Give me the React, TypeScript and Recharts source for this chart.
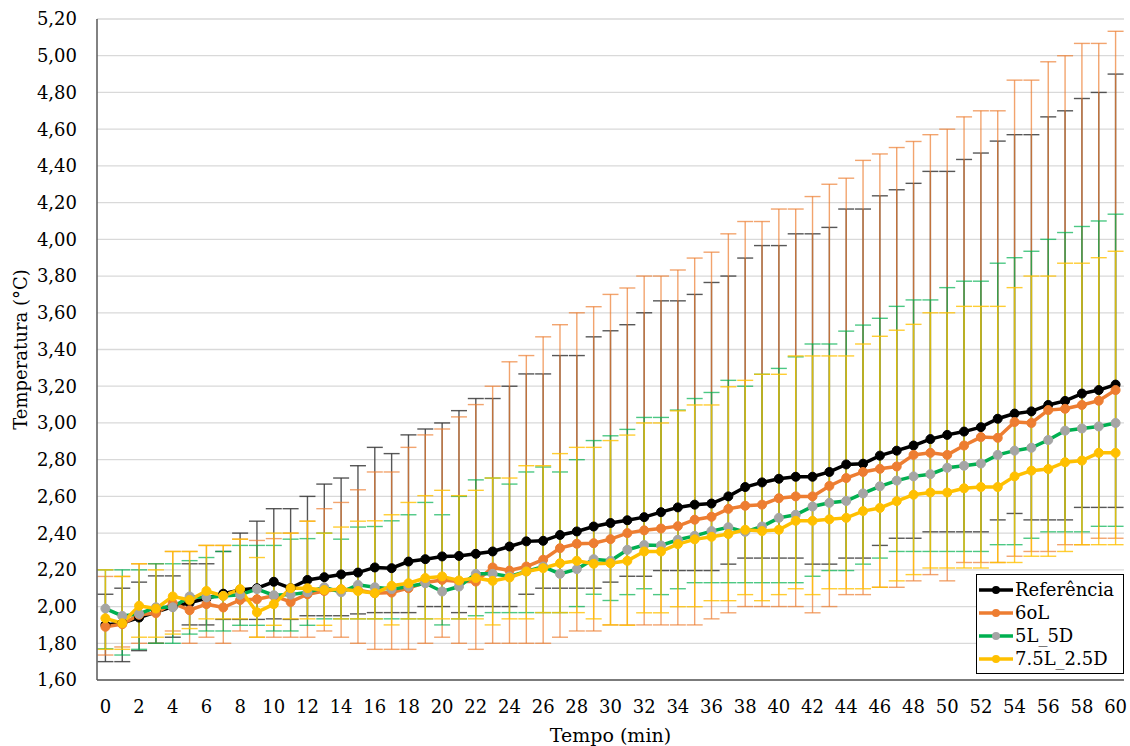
import {
  ComposedChart, Line, XAxis, YAxis, CartesianGrid, ErrorBar, Legend,
} from 'recharts'

const minutes = [
  0, 1, 2, 3, 4, 5, 6, 7, 8, 9, 10, 11, 12, 13, 14, 15, 16, 17, 18, 19, 20,
  21, 22, 23, 24, 25, 26, 27, 28, 29, 30, 31, 32, 33, 34, 35, 36, 37, 38, 39, 40,
  41, 42, 43, 44, 45, 46, 47, 48, 49, 50, 51, 52, 53, 54, 55, 56, 57, 58, 59, 60,
]
const yTicks = [1.6, 1.8, 2.0, 2.2, 2.4, 2.6, 2.8, 3.0, 3.2, 3.4, 3.6, 3.8, 4.0, 4.2, 4.4, 4.6, 4.8, 5.0, 5.2]

// Referência
const refMean = [
  1.90, 1.91, 1.94, 1.97, 2.00, 2.02, 2.045, 2.07, 2.09, 2.10, 2.135, 2.10, 2.145, 2.16, 2.175, 2.185,
  2.213, 2.209, 2.245, 2.258, 2.273, 2.276, 2.287, 2.30, 2.327, 2.355, 2.358, 2.39, 2.409, 2.436, 2.455,
  2.47, 2.487, 2.514, 2.54, 2.555, 2.561, 2.60, 2.651, 2.676, 2.696, 2.707, 2.707, 2.733, 2.774, 2.778,
  2.822, 2.849, 2.877, 2.912, 2.935, 2.953, 2.977, 3.023, 3.051, 3.063, 3.098, 3.12, 3.16, 3.179, 3.209,
]
const refHi = [
  2.067, 2.10, 2.133, 2.167, 2.167, 2.233, 2.233, 2.30, 2.40, 2.465, 2.533, 2.533, 2.60, 2.667, 2.70, 2.767,
  2.867, 2.833, 2.935, 2.967, 3.00, 3.067, 3.133, 3.133, 3.20, 3.267, 3.267, 3.367, 3.367, 3.469, 3.502,
  3.535, 3.60, 3.665, 3.665, 3.70, 3.765, 3.80, 3.898, 3.966, 3.966, 4.03, 4.03, 4.065, 4.165, 4.165,
  4.237, 4.27, 4.305, 4.37, 4.37, 4.435, 4.47, 4.535, 4.57, 4.57, 4.667, 4.70, 4.767, 4.80, 4.90,
]
const refLo = [
  1.70, 1.70, 1.76, 1.80, 1.833, 1.90, 1.90, 1.93, 1.93, 1.93, 1.933, 1.93, 1.95, 1.95, 1.95, 1.96,
  1.967, 1.967, 1.967, 2.00, 2.00, 1.967, 2.00, 2.00, 2.00, 2.067, 2.10, 2.10, 2.10, 2.10, 2.133,
  2.165, 2.165, 2.196, 2.196, 2.196, 2.196, 2.231, 2.264, 2.264, 2.264, 2.264, 2.231, 2.231, 2.264, 2.264,
  2.333, 2.372, 2.372, 2.407, 2.407, 2.407, 2.407, 2.472, 2.507, 2.472, 2.472, 2.472, 2.54, 2.54, 2.54,
]

// 60L
const l60Mean = [
  1.89, 1.904, 1.955, 1.964, 2.018, 1.98, 2.013, 1.995, 2.036, 2.04, 2.058, 2.025, 2.067, 2.085, 2.094, 2.09,
  2.073, 2.076, 2.10, 2.131, 2.145, 2.136, 2.136, 2.213, 2.196, 2.218, 2.255, 2.318, 2.342, 2.345, 2.367,
  2.40, 2.415, 2.425, 2.438, 2.473, 2.489, 2.532, 2.549, 2.555, 2.59, 2.60, 2.60, 2.657, 2.70, 2.733,
  2.75, 2.763, 2.826, 2.837, 2.826, 2.877, 2.923, 2.919, 3.005, 3.0, 3.07, 3.077, 3.098, 3.121, 3.179,
]
const l60Hi = [
  2.164, 2.164, 2.233, 2.233, 2.30, 2.30, 2.333, 2.333, 2.367, 2.36, 2.37, 2.40, 2.465, 2.533, 2.567, 2.636,
  2.733, 2.733, 2.867, 2.935, 2.967, 3.033, 3.10, 3.20, 3.333, 3.367, 3.469, 3.535, 3.60, 3.633, 3.70,
  3.735, 3.80, 3.80, 3.833, 3.898, 3.93, 4.03, 4.097, 4.097, 4.165, 4.165, 4.233, 4.30, 4.333, 4.43,
  4.465, 4.50, 4.533, 4.57, 4.60, 4.667, 4.70, 4.70, 4.867, 4.867, 4.967, 5.0, 5.067, 5.067, 5.133,
]
const l60Lo = [
  1.736, 1.78, 1.80, 1.80, 1.867, 1.80, 1.833, 1.80, 1.867, 1.833, 1.833, 1.833, 1.833, 1.867, 1.833, 1.80,
  1.767, 1.767, 1.767, 1.80, 1.833, 1.80, 1.767, 1.80, 1.80, 1.80, 1.80, 1.833, 1.867, 1.867, 1.90,
  1.90, 1.90, 1.90, 1.90, 1.90, 1.933, 1.966, 2.0, 2.0, 2.0, 2.0, 1.966, 2.0, 2.065, 2.065,
  2.105, 2.105, 2.14, 2.174, 2.14, 2.24, 2.24, 2.24, 2.274, 2.30, 2.30, 2.337, 2.337, 2.372, 2.372,
]

// 5L_5D
const l5d5Mean = [
  1.989, 1.949, 1.96, 1.996, 1.996, 2.055, 2.05, 2.058, 2.064, 2.095, 2.062, 2.065, 2.078, 2.105, 2.078, 2.118,
  2.105, 2.095, 2.109, 2.127, 2.082, 2.109, 2.178, 2.178, 2.164, 2.191, 2.218, 2.178, 2.204, 2.258, 2.249,
  2.309, 2.335, 2.333, 2.364, 2.385, 2.411, 2.432, 2.407, 2.436, 2.483, 2.50, 2.545, 2.565, 2.575, 2.616,
  2.655, 2.686, 2.709, 2.721, 2.756, 2.767, 2.779, 2.826, 2.849, 2.865, 2.907, 2.958, 2.970, 2.981, 3.0,
]
const l5d5Hi = [
  2.20, 2.20, 2.20, 2.233, 2.233, 2.25, 2.267, 2.30, 2.333, 2.333, 2.333, 2.367, 2.37, 2.40, 2.367, 2.433,
  2.436, 2.467, 2.50, 2.567, 2.50, 2.60, 2.69, 2.70, 2.667, 2.733, 2.76, 2.733, 2.80, 2.904, 2.93,
  2.965, 3.03, 3.03, 3.07, 3.133, 3.166, 3.232, 3.20, 3.265, 3.297, 3.36, 3.43, 3.43, 3.50, 3.533,
  3.57, 3.635, 3.67, 3.67, 3.737, 3.772, 3.772, 3.87, 3.90, 3.935, 4.0, 4.037, 4.07, 4.10, 4.137,
]
const l5d5Lo = [
  1.77, 1.736, 1.767, 1.80, 1.80, 1.85, 1.867, 1.867, 1.898, 1.898, 1.867, 1.867, 1.898, 1.933, 1.933, 1.933,
  1.933, 1.933, 1.933, 1.933, 1.90, 1.933, 1.95, 1.967, 1.967, 1.967, 1.967, 1.967, 2.0, 2.067, 2.033,
  2.065, 2.097, 2.065, 2.097, 2.13, 2.13, 2.13, 2.13, 2.13, 2.13, 2.13, 2.165, 2.196, 2.196, 2.231,
  2.264, 2.30, 2.30, 2.30, 2.30, 2.30, 2.30, 2.337, 2.337, 2.372, 2.407, 2.407, 2.407, 2.437, 2.437,
]

// 7.5L_2.5D
const l75Mean = [
  1.936, 1.909, 2.004, 1.989, 2.055, 2.036, 2.085, 2.058, 2.095, 1.969, 2.013, 2.10, 2.10, 2.09, 2.094, 2.085,
  2.073, 2.113, 2.127, 2.155, 2.164, 2.142, 2.155, 2.14, 2.158, 2.191, 2.209, 2.236, 2.249, 2.233, 2.236,
  2.249, 2.30, 2.30, 2.34, 2.366, 2.38, 2.395, 2.418, 2.411, 2.418, 2.467, 2.467, 2.475, 2.483, 2.52,
  2.537, 2.574, 2.609, 2.621, 2.621, 2.644, 2.651, 2.651, 2.709, 2.74, 2.749, 2.786, 2.795, 2.837, 2.837,
]
const l75Hi = [
  2.20, 2.164, 2.233, 2.20, 2.30, 2.30, 2.333, 2.333, 2.367, 2.267, 2.40, 2.40, 2.465, 2.40, 2.433, 2.465,
  2.467, 2.50, 2.567, 2.604, 2.633, 2.604, 2.633, 2.70, 2.70, 2.767, 2.767, 2.833, 2.867, 2.867, 2.904,
  2.934, 3.0, 3.0, 3.066, 3.098, 3.098, 3.197, 3.232, 3.265, 3.265, 3.365, 3.365, 3.365, 3.365, 3.43,
  3.472, 3.505, 3.537, 3.60, 3.60, 3.635, 3.635, 3.635, 3.737, 3.80, 3.80, 3.87, 3.87, 3.90, 3.935,
]
const l75Lo = [
  1.767, 1.767, 1.833, 1.833, 1.85, 1.88, 1.933, 1.933, 1.933, 1.833, 1.898, 1.933, 1.933, 1.898, 1.933, 1.933,
  1.933, 1.90, 1.933, 1.933, 1.933, 1.933, 1.933, 1.90, 1.933, 1.933, 1.967, 1.967, 1.967, 1.933, 1.90,
  1.898, 1.966, 1.966, 1.999, 1.999, 2.032, 2.032, 2.065, 2.032, 2.065, 2.097, 2.065, 2.097, 2.097, 2.097,
  2.105, 2.14, 2.174, 2.21, 2.21, 2.21, 2.21, 2.24, 2.24, 2.274, 2.274, 2.30, 2.337, 2.337, 2.337,
]

const FONT = '"DejaVu Serif", "Liberation Serif", serif'

const series = [
  { key: 'ref', name: 'Referência', mean: refMean, hi: refHi, lo: refLo, color: '#000000', dot: '#000000', err: '#3a3a3a', errOpacity: 0.85 },
  { key: 'l60', name: '6oL', mean: l60Mean, hi: l60Hi, lo: l60Lo, color: '#ED7D31', dot: '#ED7D31', err: '#ED7D31', errOpacity: 0.7 },
  { key: 'l5d5', name: '5L_5D', mean: l5d5Mean, hi: l5d5Hi, lo: l5d5Lo, color: '#00B050', dot: '#A5A5A5', err: '#00B050', errOpacity: 0.7 },
  { key: 'l75', name: '7.5L_2.5D', mean: l75Mean, hi: l75Hi, lo: l75Lo, color: '#FFC000', dot: '#FFC000', err: '#FFC000', errOpacity: 0.8 },
]

const data = minutes.map((t, i) => {
  const row: any = { t }
  series.forEach(s => {
    row[s.key] = s.mean[i]
    row[s.key + 'Err'] = [s.mean[i] - s.lo[i], s.hi[i] - s.mean[i]]
  })
  return row
})

const fmt = (v: number) => v.toFixed(2).replace('.', ',')

const YLabel = ({ viewBox }: any) => {
  const x = 20
  const y = viewBox.y + viewBox.height / 2
  return (
    <text x={x} y={y} transform={`rotate(-90, ${x}, ${y})`} textAnchor="middle" dominantBaseline="central"
      fontFamily={FONT} fontSize={18} fill="#000">
      Temperatura (°C)
    </text>
  )
}

const LegendBox = () => (
  <div style={{
    border: '1px solid #000', background: '#fff', width: 146, padding: '3px 0',
    fontFamily: FONT, fontSize: 18, color: '#000',
  }}>
    {series.map(s => (
      <div key={s.key} style={{ display: 'flex', alignItems: 'center', height: 23, lineHeight: '23px' }}>
        <svg width={38} height={12} style={{ flex: 'none' }}>
          <line x1={2} y1={6} x2={36} y2={6} stroke={s.color} strokeWidth={3.5} />
          <circle cx={19} cy={6} r={4} fill={s.dot} />
        </svg>
        <span style={{ whiteSpace: 'nowrap' }}>{s.name}</span>
      </div>
    ))}
  </div>
)

export default function App() {
  return (
    <div style={{ position: 'absolute', left: 0, top: 0, width: 1130, height: 746, background: '#fff' }}>
      <ComposedChart width={1130} height={746} data={data} margin={{ top: 19, right: 6, bottom: 0, left: 0 }}>
        <CartesianGrid vertical={false} stroke="#d9d9d9" strokeWidth={1.3} />
        <XAxis
          dataKey="t"
          type="category"
          scale="band"
          interval={1}
          height={66}
          tickLine={false}
          tickSize={0}
          tickMargin={20}
          axisLine={{ stroke: '#595959', strokeWidth: 1.5 }}
          tick={{ fontFamily: FONT, fontSize: 18, fill: '#000' }}
          label={{ value: 'Tempo (min)', position: 'insideBottom', offset: 4, style: { fontFamily: FONT, fontSize: 19, fill: '#000' } }}
        />
        <XAxis xAxisId="top" dataKey="t" scale="band" orientation="top" height={0} tick={false} tickLine={false}
          axisLine={{ stroke: '#595959', strokeWidth: 1.5 }} />
        <YAxis
          type="number"
          domain={[1.6, 5.2]}
          ticks={yTicks}
          allowDataOverflow
          width={97}
          tickLine={false}
          tickSize={0}
          tickMargin={20}
          tickFormatter={fmt}
          axisLine={{ stroke: '#595959', strokeWidth: 1.5 }}
          tick={{ fontFamily: FONT, fontSize: 18, fill: '#000' }}
          label={<YLabel />}
        />
        <YAxis yAxisId="right" orientation="right" type="number" domain={[1.6, 5.2]} width={0}
          tick={false} tickLine={false} axisLine={{ stroke: '#595959', strokeWidth: 1.5 }} />

        {series.map(s => (
          <Line key={s.key + '-err'} dataKey={s.key} stroke="none" dot={false} activeDot={false}
            legendType="none" isAnimationActive={false}>
            <ErrorBar dataKey={s.key + 'Err'} width={8} strokeWidth={1.4} stroke={s.err}
              strokeOpacity={s.errOpacity} direction="y" />
          </Line>
        ))}
        {series.map(s => (
          <Line key={s.key} dataKey={s.key} name={s.name} stroke={s.color} strokeWidth={3.5}
            dot={{ r: 4.5, fill: s.dot, stroke: s.dot, strokeWidth: 1 }} activeDot={false}
            isAnimationActive={false} />
        ))}
        <Legend
          layout="vertical"
          align="center"
          verticalAlign="middle"
          content={<LegendBox />}
          wrapperStyle={{ left: 976, top: 574, width: 148, height: 104 }}
        />
      </ComposedChart>
    </div>
  )
}
